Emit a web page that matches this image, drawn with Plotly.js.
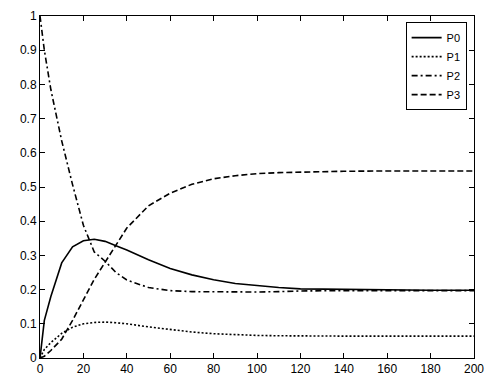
<!DOCTYPE html>
<html>
<head>
<meta charset="utf-8">
<script src="https://cdn.plot.ly/plotly-3.0.1.min.js"></script>
<style>html,body{margin:0;padding:0;background:#fff;}#chart{width:497px;height:384px;}</style>
</head>
<body>
<div id="chart"></div>
<script>
const t  = [0, 2, 5, 10, 15, 20, 25, 30, 35, 40, 50, 60, 70, 80, 90, 100, 110, 120, 140, 160, 180, 200];
const p0 = [0, 0.11, 0.18, 0.278, 0.325, 0.343, 0.347, 0.341, 0.328, 0.316, 0.287, 0.262, 0.243, 0.229, 0.218, 0.211, 0.206, 0.202, 0.200, 0.199, 0.198, 0.198];
const p1 = [0, 0.025, 0.045, 0.072, 0.090, 0.100, 0.104, 0.105, 0.103, 0.100, 0.091, 0.083, 0.076, 0.071, 0.068, 0.066, 0.065, 0.064, 0.064, 0.064, 0.064, 0.064];
const p2 = [1.0, 0.9, 0.785, 0.635, 0.507, 0.388, 0.31, 0.283, 0.25, 0.228, 0.206, 0.197, 0.194, 0.193, 0.193, 0.193, 0.194, 0.196, 0.197, 0.197, 0.197, 0.197];
const p3 = [0, 0.005, 0.022, 0.055, 0.11, 0.17, 0.23, 0.28, 0.33, 0.38, 0.445, 0.482, 0.508, 0.524, 0.533, 0.539, 0.542, 0.544, 0.546, 0.547, 0.547, 0.547];
const names = ['P0', 'P1', 'P2', 'P3'];
const series = [p0, p1, p2, p3];
const dashes = ['solid', '2px,2px', '6px,3px,2px,3px', '6px,3px'];

const traces = series.map((y, i) => ({
  x: t, y: y, name: names[i], type: 'scatter', mode: 'lines',
  line: {color: '#000', width: 1.6, dash: dashes[i]}
}));

const axisCommon = {
  showline: true, linecolor: '#000', linewidth: 1, mirror: 'ticks',
  ticks: 'inside', ticklen: 5, tickcolor: '#000', tickwidth: 1,
  showgrid: false, zeroline: false,
  tickfont: {family: 'Liberation Sans, Arial, sans-serif', size: 12, color: '#000'}
};

const layout = {
  width: 497, height: 384,
  margin: {l: 40, r: 23, t: 16, b: 26},
  paper_bgcolor: '#fff', plot_bgcolor: '#fff',
  showlegend: true,
  legend: {
    x: 0.983, y: 0.982, xanchor: 'right', yanchor: 'top',
    bgcolor: '#fff', bordercolor: '#000', borderwidth: 1,
    font: {family: 'Liberation Sans, Arial, sans-serif', size: 11, color: '#000'},
    tracegroupgap: 0, itemwidth: 30
  },
  xaxis: Object.assign({}, axisCommon, {range: [0, 200], dtick: 20, tick0: 0}),
  yaxis: Object.assign({}, axisCommon, {range: [0, 1], dtick: 0.1, tick0: 0})
};

Plotly.newPlot('chart', traces, layout, {displayModeBar: false, staticPlot: true});
</script>
</body>
</html>
